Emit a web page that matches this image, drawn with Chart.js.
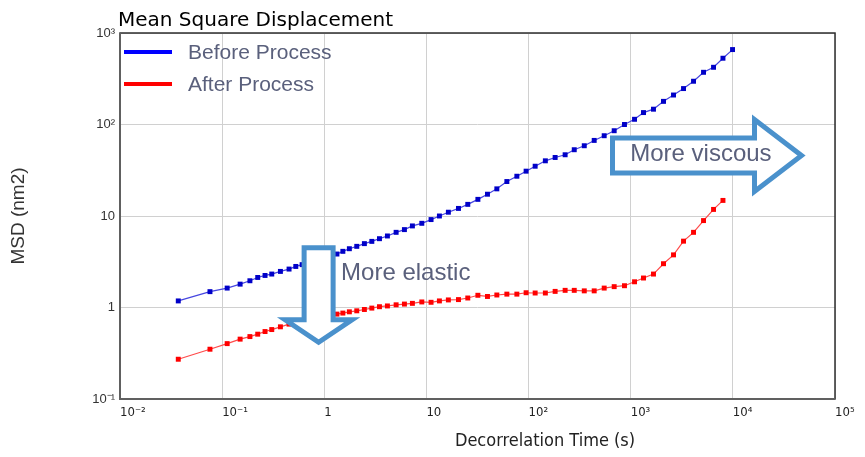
<!DOCTYPE html>
<html>
<head>
<meta charset="utf-8">
<script src="https://cdn.jsdelivr.net/npm/chart.js@4.4.1/dist/chart.umd.min.js"></script>
<style>
  html, body { margin: 0; padding: 0; background: #fff; }
  #wrap { width: 865px; height: 457px; }
</style>
</head>
<body>
<div id="wrap"><canvas id="msd"></canvas></div>
<script>
'use strict'

// decorrelation time (s), shared by both runs
const times = [0.0372, 0.076, 0.112, 0.150, 0.187, 0.223, 0.263, 0.306, 0.372, 0.452,
  0.526, 0.607, 0.710, 0.832, 0.973, 1.14, 1.33, 1.52, 1.76, 2.08,
  2.47, 2.92, 3.47, 4.15, 5.05, 6.09, 7.29, 9.01, 11.1, 13.4,
  16.4, 20.6, 25.4, 31.9, 39.6, 48.9, 61.3, 76.8, 94.6, 116,
  146, 182, 228, 280, 351, 439, 550, 689, 869, 1090,
  1334, 1671, 2094, 2624, 3289, 4121, 5164, 6471, 8000, 9930]

// MSD (nm2)
const msdBefore = [1.18, 1.49, 1.63, 1.80, 1.96, 2.13, 2.24, 2.32, 2.48, 2.63,
  2.81, 2.94, 3.13, 3.33, 3.55, 3.73, 3.84, 4.11, 4.39, 4.66,
  4.99, 5.28, 5.65, 6.05, 6.63, 7.10, 7.79, 8.32, 9.14, 10.0,
  11.0, 12.1, 13.4, 15.2, 17.3, 19.8, 23.8, 27.2, 30.9, 35.0,
  40.1, 43.6, 46.7, 53.0, 58.6, 67.0, 75.4, 85.5, 100, 114,
  135, 147, 179, 210, 247, 297, 372, 422, 530, 659]

const msdAfter = [0.272, 0.350, 0.403, 0.451, 0.481, 0.511, 0.546, 0.574, 0.615, 0.658,
  0.689, 0.715, 0.743, 0.765, 0.791, 0.822, 0.847, 0.869, 0.897, 0.920,
  0.951, 0.985, 1.02, 1.04, 1.07, 1.09, 1.11, 1.15, 1.14, 1.18,
  1.21, 1.22, 1.27, 1.36, 1.32, 1.37, 1.40, 1.40, 1.45, 1.44,
  1.44, 1.50, 1.54, 1.54, 1.52, 1.52, 1.63, 1.69, 1.73, 1.91,
  2.10, 2.32, 3.01, 3.76, 5.31, 6.63, 8.91, 11.8, 14.8]

const seriesNames = ['Before Process', 'After Process']

const xTickValues = [0.01, 0.1, 1, 10, 100, 1000, 10000, 100000]
const xTickLabels = ['10⁻²', '10⁻¹', '1', '10', '10²', '10³', '10⁴', '10⁵']
const yTickValues = [0.1, 1, 10, 100, 1000]
const yTickLabels = ['10⁻¹', '1', '10', '10²', '10³']

const ARROW_BLUE = '#4a91cc'
const NOTE_GREY = '#5a607c'


function toPoints (ys) {
  return ys.map((v, i) => ({ x: times[i], y: v }))
}


function drawArrow (ctx, pts) {
  ctx.beginPath()
  pts.forEach((p, i) => {
    if (i === 0) {
      ctx.moveTo(p[0], p[1])
    } else {
      ctx.lineTo(p[0], p[1])
    }
  })
  ctx.closePath()
  ctx.fillStyle = '#fff'
  ctx.fill()
  ctx.lineWidth = 5
  ctx.lineJoin = 'miter'
  ctx.strokeStyle = ARROW_BLUE
  ctx.stroke()
}


const decorations = {
  id: 'decorations',
  beforeDatasetsDraw (chart) {
    const ctx = chart.ctx
    const a = chart.chartArea
    ctx.save()
    ctx.strokeStyle = '#2e2e2e'
    ctx.lineWidth = 1.5
    ctx.strokeRect(a.left, a.top, a.right - a.left, a.bottom - a.top)
    ctx.strokeStyle = '#606060'
    ctx.lineWidth = 2
    ctx.beginPath()
    ctx.moveTo(a.left, a.top)
    ctx.lineTo(a.left, a.bottom)
    ctx.lineTo(a.right, a.bottom)
    ctx.stroke()
    ctx.restore()
  },
  afterDatasetsDraw (chart) {
    const ctx = chart.ctx
    const a = chart.chartArea
    const xs = chart.scales.x
    const ys = chart.scales.y
    ctx.save()

    // title
    ctx.fillStyle = '#000'
    ctx.font = '20px "DejaVu Sans"'
    ctx.textAlign = 'left'
    ctx.textBaseline = 'alphabetic'
    ctx.fillText('Mean Square Displacement', a.left - 2, a.top - 7)

    // legend, inside the plot
    chart.data.datasets.forEach((ds, i) => {
      const ly = a.top + 19 + i * 32
      ctx.strokeStyle = ds.legendColor
      ctx.lineWidth = 4
      ctx.beginPath()
      ctx.moveTo(a.left + 4, ly)
      ctx.lineTo(a.left + 52, ly)
      ctx.stroke()
      ctx.fillStyle = NOTE_GREY
      ctx.font = '21px "Liberation Sans"'
      ctx.fillText(ds.label, a.left + 68, ly + 7)
    })

    // "more elastic" arrow, tip placed on the data scales
    let tx = xs.getPixelForValue(0.88)
    let ty = ys.getPixelForValue(0.416)
    drawArrow(ctx, [[tx - 14.5, ty - 94.5], [tx + 14.5, ty - 94.5], [tx + 14.5, ty - 22.5],
      [tx + 33.5, ty - 22.5], [tx, ty], [tx - 33.5, ty - 22.5], [tx - 14.5, ty - 22.5]])

    // "more viscous" arrow
    tx = xs.getPixelForValue(47000)
    ty = ys.getPixelForValue(45.9)
    drawArrow(ctx, [[tx - 189, ty - 17.5], [tx - 47, ty - 17.5], [tx - 47, ty - 36],
      [tx, ty], [tx - 47, ty + 36], [tx - 47, ty + 17.5], [tx - 189, ty + 17.5]])

    ctx.fillStyle = NOTE_GREY
    ctx.font = '24px "Liberation Sans"'
    ctx.textAlign = 'left'
    ctx.textBaseline = 'alphabetic'
    ctx.fillText('More elastic', xs.getPixelForValue(1.46), ys.getPixelForValue(2.01))
    ctx.fillText('More viscous', xs.getPixelForValue(989), ys.getPixelForValue(40.4))

    // axis titles
    ctx.fillStyle = '#222'
    ctx.font = '18px "DejaVu Sans Condensed"'
    ctx.textAlign = 'center'
    ctx.textBaseline = 'middle'
    ctx.fillText('Decorrelation Time (s)', a.left + 425, a.bottom + 42)

    ctx.translate(19, (a.top + a.bottom) / 2)
    ctx.rotate(-Math.PI / 2)
    ctx.font = '19px "Liberation Sans"'
    ctx.fillStyle = '#333'
    ctx.fillText('MSD (nm2)', 0, 0)
    ctx.restore()
  }
}


const chart = new Chart(document.getElementById('msd'), {
  type: 'line',
  data: {
    datasets: [{
      label: seriesNames[0],
      data: toPoints(msdBefore),
      legendColor: '#0000ff',
      borderColor: '#4646e0',
      borderWidth: 1.2,
      pointStyle: 'rect',
      pointRadius: 3.5,
      pointBorderWidth: 0,
      pointBackgroundColor: '#0000c8',
      tension: 0
    }, {
      label: seriesNames[1],
      data: toPoints(msdAfter),
      legendColor: '#ff0000',
      borderColor: '#ff4a4a',
      borderWidth: 1.2,
      pointStyle: 'rect',
      pointRadius: 3.5,
      pointBorderWidth: 0,
      pointBackgroundColor: '#ff0000',
      tension: 0
    }]
  },
  options: {
    responsive: true,
    maintainAspectRatio: false,
    animation: false,
    layout: { padding: { top: 33, right: 30, left: 0, bottom: 0 } },
    plugins: {
      legend: { display: false },
      tooltip: { enabled: false }
    },
    scales: {
      x: {
        type: 'logarithmic',
        min: 0.01,
        max: 100000,
        afterBuildTicks: s => { s.ticks = xTickValues.map(v => ({ value: v })) },
        afterFit: s => { s.height = 58 },
        grid: { color: '#d0d0d0', lineWidth: 1, drawTicks: false },
        border: { display: false },
        ticks: {
          autoSkip: false,
          maxRotation: 0,
          align: 'start',
          padding: 6,
          color: '#222',
          font: { family: 'DejaVu Sans Condensed', size: 13 },
          callback: (v, i) => xTickLabels[i]
        }
      },
      y: {
        type: 'logarithmic',
        min: 0.1,
        max: 1000,
        afterBuildTicks: s => { s.ticks = yTickValues.map(v => ({ value: v })) },
        afterFit: s => { s.width = 120 },
        grid: { color: '#d0d0d0', lineWidth: 1, drawTicks: false },
        border: { display: false },
        ticks: {
          autoSkip: false,
          padding: 5,
          color: '#333',
          font: { family: 'Liberation Sans', size: 13 },
          callback: (v, i) => yTickLabels[i]
        }
      }
    }
  },
  plugins: [decorations]
})
</script>
</body>
</html>
